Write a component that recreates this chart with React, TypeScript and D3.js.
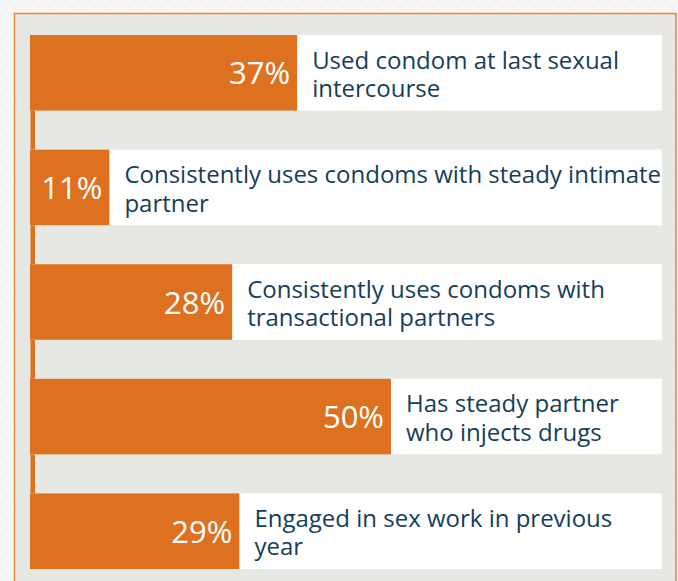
import React from "react";
import * as d3 from "d3";

const values = [37, 11, 28, 50, 29];
const labelLine1 = [
  "Used condom at last sexual",
  "Consistently uses condoms with steady intimate",
  "Consistently uses condoms with",
  "Has steady partner",
  "Engaged in sex work in previous",
];
const labelLine2 = ["intercourse", "partner", "transactional partners", "who injects drugs", "year"];
const categories = values.map((_, i) => `c${i}`);

const W = 678;
const H = 581;

export default function App() {
  const x = d3.scaleLinear().domain([0, 100]).range([30, 752]);
  const y = d3.scaleBand().domain(categories).range([35, 569]).paddingInner(0.34).paddingOuter(0);
  const bw = y.bandwidth();
  const orange = "#de7120";
  const navy = "#153e58";
  const font = "'Open Sans', sans-serif";
  const firstTop = y(categories[0])!;
  const lastBottom = y(categories[categories.length - 1])! + bw;
  return (
    <div style={{ position: "absolute", left: 0, top: 0 }}>
      <svg width={W} height={H} style={{ display: "block" }}>
        <defs>
          <pattern id="stripes" width="8" height="8" patternUnits="userSpaceOnUse" patternTransform="rotate(-45)">
            <rect width="8" height="8" fill="#f4f4f4" />
            <rect width="4" height="8" fill="#f7f7f7" />
          </pattern>
        </defs>
        <rect x={0} y={0} width={W} height={H} fill="url(#stripes)" />
        <rect x={14.5} y={13.5} width={661.5} height={H} fill="#e6e8e3" stroke="#e8863e" strokeWidth={1.5} />
        <rect x={30.5} y={firstTop} width={4.5} height={lastBottom - firstTop} fill={orange} />
        {values.map((v, i) => {
          const top = y(categories[i])!;
          const cy = top + bw / 2;
          const xe = x(v);
          return (
            <g key={i}>
              <rect x={x(0)} y={top} width={662 - x(0)} height={bw} fill="#ffffff" />
              <rect x={x(0)} y={top} width={xe - x(0)} height={bw} fill={orange} />
              <text x={xe - 7} y={cy + 11.5} textAnchor="end" fill="#ffffff" fontFamily={font} fontSize={31}>
                {v}%
              </text>
              <text x={xe + 15} y={cy - 4.3} fill={navy} fontFamily={font} fontSize={24}>
                {labelLine1[i]}
              </text>
              <text x={xe + 15} y={cy + 24.2} fill={navy} fontFamily={font} fontSize={24}>
                {labelLine2[i]}
              </text>
            </g>
          );
        })}
      </svg>
    </div>
  );
}
